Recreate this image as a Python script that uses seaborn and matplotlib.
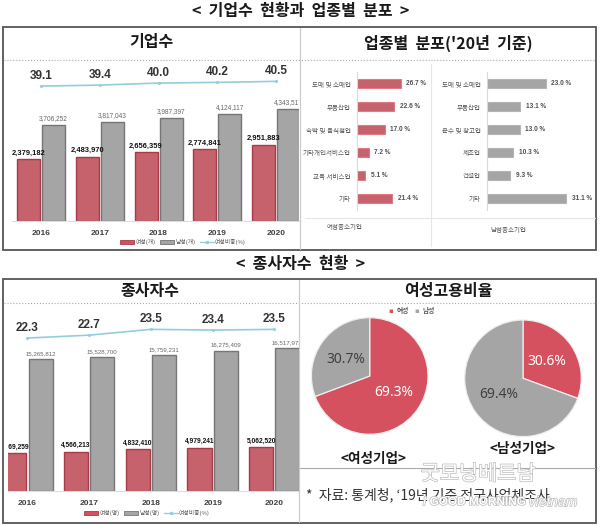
import matplotlib
matplotlib.use("Agg")
import matplotlib.pyplot as plt
import matplotlib.patheffects as pe
from matplotlib.lines import Line2D
from matplotlib.patches import Patch, Rectangle
import pandas as pd
import seaborn as sns

years = ["2016", "2017", "2018", "2019", "2020"]
firms_female = [2379182, 2483970, 2656359, 2774841, 2951883]
firms_male = [3706252, 3817043, 3987397, 4124117, 4343517]
firms_ratio = [39.1, 39.4, 40.0, 40.2, 40.5]
workers_female = [4369259, 4566213, 4832410, 4979241, 5062520]
workers_male = [15265812, 15528700, 15759231, 16275409, 16517972]
workers_ratio = [22.3, 22.7, 23.5, 23.4, 23.5]

sector_female = ["도매 및 소매업", "부동산업", "숙박 및 음식점업", "기타개인서비스업", "교육 서비스업", "기타"]
share_female = [26.7, 22.6, 17.0, 7.2, 5.1, 21.4]
sector_male = ["도매 및 소매업", "부동산업", "운수 및 창고업", "제조업", "건설업", "기타"]
share_male = [23.0, 13.1, 13.0, 10.3, 9.3, 31.1]

pie_female_firm = [69.3, 30.7]
pie_male_firm = [30.6, 69.4]

RED = "#D6515F"
GREY = "#A5A5A5"
RED_EDGE = "#A93A48"
GREY_EDGE = "#767676"
LINE = "#93CEDB"
W, H = 600, 525

sns.set_style("white")
plt.rcParams["font.family"] = ["Noto Sans CJK KR", "DejaVu Sans"]
LATIN = "Liberation Sans"

fig = plt.figure(figsize=(6, 5.25), dpi=100, facecolor="white")


def box(x0, y0, x1, y1, **kw):
    ax = fig.add_axes([x0 / W, 1 - y1 / H, (x1 - x0) / W, (y1 - y0) / H], **kw)
    return ax


def label(x, y, s, size, **kw):
    kw.setdefault("ha", "center")
    kw.setdefault("va", "center")
    kw.setdefault("color", "#1A1A1A")
    return fig.text(x / W, 1 - y / H, s, fontsize=size, **kw)


def hline(x0, x1, y, **kw):
    fig.add_artist(Line2D([x0 / W, x1 / W], [1 - y / H, 1 - y / H], **kw))


def vline(x, y0, y1, **kw):
    fig.add_artist(Line2D([x / W, x / W], [1 - y0 / H, 1 - y1 / H], **kw))


def combo(box_px, xlim, ymax, line_lim, female, male, ratio, sizes):
    ax = box(*box_px)
    df = pd.DataFrame({
        "year": years * 2,
        "value": female + male,
        "sex": ["f"] * 5 + ["m"] * 5,
    })
    sns.barplot(data=df, x="year", y="value", hue="sex", palette=[RED, GREY], width=0.85, gap=0.08,
                legend=False, ax=ax, linewidth=1)
    for cont, edge in zip(ax.containers, [RED_EDGE, GREY_EDGE]):
        for p in cont:
            p.set_edgecolor(edge)
    ax.bar_label(ax.containers[0], labels=[f"{v:,}" for v in female], padding=2, fontsize=sizes[0],
                 fontweight="bold", family=LATIN, color="#111111", clip_on=True, zorder=5)
    ax.bar_label(ax.containers[1], labels=[f"{v:,}" for v in male], padding=2, fontsize=sizes[1],
                 family=LATIN, color="#666666", clip_on=True)
    ax.set_xlim(*xlim)
    ax.set_ylim(0, ymax)
    ax.set_xlabel("")
    ax.set_ylabel("")
    ax.set_yticks([])
    ax.tick_params(axis="x", length=0, pad=6.5)
    for t in ax.get_xticklabels():
        t.set_fontsize(6)
        t.set_fontweight("bold")
        t.set_family(LATIN)
        t.set_color("#404040")
    sns.despine(ax=ax, left=True)
    ax.spines["bottom"].set_color("#DDDDDD")
    ax.patch.set_alpha(0)

    tw = ax.twinx()
    sns.lineplot(x=list(range(5)), y=ratio, ax=tw, color=LINE, linewidth=1.2, marker="o", markersize=2.2,
                 markeredgewidth=0)
    tw.set_ylim(*line_lim)
    tw.set_xlim(*xlim)
    tw.set_yticks([])
    tw.set_ylabel("")
    sns.despine(ax=tw, left=True, right=True, bottom=True)
    for i, v in enumerate(ratio):
        tw.annotate(f"{v:.1f}", (i, v), xytext=(0, 7.5), textcoords="offset points", ha="center", va="center",
                    fontsize=8.5, fontweight="bold", family=LATIN, color="#333333")
    return ax


def share(box_px, names, vals, color, edge, xmax):
    ax = box(*box_px)
    sns.barplot(x=vals, y=names, color=color, orient="h", width=0.35, ax=ax, linewidth=0.8, edgecolor=edge)
    ax.bar_label(ax.containers[0], labels=[f"{v:.1f} %" for v in vals], padding=4, fontsize=4.7,
                 fontweight="bold", family=LATIN, color="#505050")
    ax.set_xlim(0, xmax)
    ax.set_xticks([])
    ax.set_xlabel("")
    ax.tick_params(axis="y", length=0, pad=4.3, labelsize=4.7, labelcolor="#555555")
    sns.despine(ax=ax, top=True, right=True, bottom=True)
    ax.spines["left"].set_color("#D9D9D9")
    ax.patch.set_alpha(0)
    return ax


def pie(cx, cy, r, vals, colors, txt):
    ax = box(cx - r, cy - r, cx + r, cy + r)
    _, _, auto = ax.pie(vals, colors=colors, startangle=90, counterclock=False, radius=1, autopct="%.1f%%",
                        pctdistance=0.5, wedgeprops={"edgecolor": "#EDEDED", "linewidth": 0.9},
                        textprops={"fontsize": 10, "family": "Noto Sans"})
    for a, c in zip(auto, txt):
        a.set_color(c)
    ax.set_xlim(-1, 1)
    ax.set_ylim(-1, 1)


# 패널 틀
for x0, y0, x1, y1 in [(3, 27, 596, 250), (2.5, 279, 596, 523)]:
    fig.add_artist(Rectangle((x0 / W, 1 - y1 / H), (x1 - x0) / W, (y1 - y0) / H, fill=False, edgecolor="#555555",
                             linewidth=1.3, transform=fig.transFigure))
hline(4, 595, 60, color="#AAAAAA", linewidth=0.8, linestyle=":")
hline(4, 595, 303, color="#AAAAAA", linewidth=0.8, linestyle=":")
vline(300, 28, 249, color="#CCCCCC", linewidth=0.9)
vline(299, 280, 522, color="#CCCCCC", linewidth=0.9)
vline(431, 64, 246, color="#E6E6E6", linewidth=0.8)
hline(305, 595, 218, color="#E6E6E6", linewidth=0.8)
hline(300, 595, 468, color="#AAAAAA", linewidth=0.8)

label(301, 11, "<  기업수  현황과  업종별  분포  >", 11.5, fontweight="bold")
label(301, 264, "<  종사자수  현황  >", 11.5, fontweight="bold")
label(151, 42, "기업수", 11.5, fontweight="bold")
label(448, 43, "업종별  분포('20년  기준)", 11.5, fontweight="bold")
label(150, 291, "종사자수", 11.5, fontweight="bold")
label(448, 291, "여성고용비율", 11.5, fontweight="bold")

combo((11.6, 62, 299, 221), (-0.5, 4.39), 6.14e6, (-0.6, 46.2), firms_female, firms_male, firms_ratio, (5.4, 4.7))
combo((8, 305, 299, 491), (-0.316, 4.40), 21.55e6, (1.2, 26.86), workers_female, workers_male, workers_ratio,
      (4.8, 4.4))


def legend(x, y, names):
    handles = [Patch(facecolor=RED, edgecolor=RED_EDGE, linewidth=0.6),
               Patch(facecolor=GREY, edgecolor=GREY_EDGE, linewidth=0.6),
               Line2D([0], [0], color=LINE, linewidth=1, marker="o", markersize=1.5)]
    fig.legend(handles, names, loc="center", bbox_to_anchor=(x / W, 1 - y / H), ncol=3, frameon=False, fontsize=4.2,
               handlelength=2.4, handleheight=0.7, handletextpad=0.2, columnspacing=0.8, labelcolor="#555555")


legend(183, 242, ["여성(개)", "남성(개)", "여성비중(%)"])
legend(147, 513, ["여성(명)", "남성(명)", "여성비중(%)"])

share((356.7, 72, 431, 210), sector_female, share_female, RED, "#E07A85", 45)
share((486.7, 72, 590, 210), sector_male, share_male, GREY, "#B5B5B5", 40.4)
label(345, 227, "여성중소기업", 4.7, color="#555555")
label(508, 230, "남성중소기업", 4.7, color="#555555")

pie(369.7, 376, 58.3, pie_female_firm, [RED, GREY], ["white", "#404040"])
pie(523, 378.3, 58.3, pie_male_firm, [RED, GREY], ["white", "#404040"])
label(373.5, 459, "<여성기업>", 9.8, fontweight="bold")
label(522, 449, "<남성기업>", 9.8, fontweight="bold")
label(391, 311, "▪", 5, color=RED, family="DejaVu Sans")
label(403, 311, "여성", 4.8, color="#555555", fontweight="bold")
label(417, 311, "▪", 5, color=GREY, family="DejaVu Sans")
label(429, 311, "남성", 4.8, color="#555555", fontweight="bold")

label(306, 495, "*  자료: 통계청, ‘19년 기준 전국사업체조사", 10, ha="left", color="#333333")

# 워터마크
shadow = [pe.withStroke(linewidth=1, foreground="#BBBBBB")]
label(478, 474, "굿모닝베트남", 15, color="white", path_effects=shadow, style="italic")
label(474, 502, "/ GOOD MORNING", 8.5, color="white", path_effects=shadow, family=LATIN, fontweight="bold")
label(553, 502, "vietnam", 10, color="white", path_effects=shadow, family=LATIN, style="italic")

fig.savefig("out.png", dpi=100)
